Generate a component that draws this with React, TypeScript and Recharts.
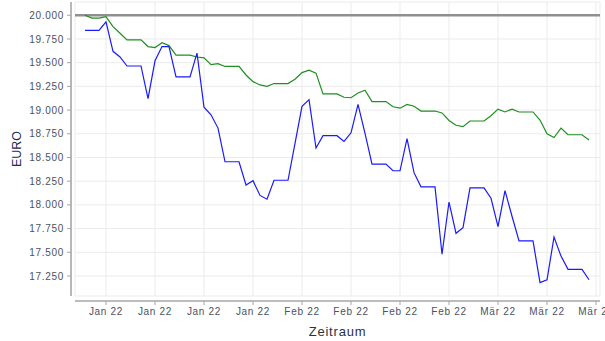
import React from 'react';
import { LineChart, Line, XAxis, YAxis, CartesianGrid, ReferenceLine } from 'recharts';

// Daily values (EUR), one entry per day starting ~6 Jan 2022
const blueValues = [
  19840, 19840, 19840, 19930, 19620, 19560, 19465, 19465, 19465, 19120,
  19520, 19670, 19670, 19350, 19350, 19350, 19600, 19030, 18950, 18810,
  18455, 18455, 18455, 18210, 18255, 18100, 18060, 18260, 18260, 18260,
  18650, 19040, 19110, 18600, 18730, 18730, 18730, 18670, 18760, 19060,
  18755, 18430, 18430, 18430, 18360, 18360, 18700, 18340, 18190, 18190,
  18190, 17480, 18030, 17700, 17760, 18180, 18180, 18180, 18070, 17770,
  18150, 17880, 17620, 17620, 17620, 17180, 17210, 17660, 17460, 17320,
  17320, 17320, 17210,
];

const greenValues = [
  20000, 19970, 19970, 19985, 19880, 19810, 19740, 19740, 19740, 19670,
  19660, 19710, 19680, 19580, 19580, 19580, 19560, 19550, 19480, 19490,
  19460, 19460, 19460, 19370, 19300, 19265, 19250, 19280, 19280, 19280,
  19325, 19395, 19420, 19390, 19170, 19170, 19170, 19135, 19130, 19180,
  19210, 19090, 19090, 19090, 19035, 19020, 19060, 19040, 18990, 18990,
  18990, 18970, 18890, 18840, 18825, 18885, 18885, 18885, 18940, 19010,
  18980, 19010, 18980, 18980, 18980, 18895, 18750, 18710, 18810, 18740,
  18740, 18740, 18685,
];

const tickDays = [3, 10, 17, 24, 31, 38, 45, 52, 59, 66, 73];
const tickLabels = [
  'Jan 22', 'Jan 22', 'Jan 22', 'Jan 22',
  'Feb 22', 'Feb 22', 'Feb 22', 'Feb 22',
  'Mär 22', 'Mär 22', 'Mär 22',
];
const yTicks = [17250, 17500, 17750, 18000, 18250, 18500, 18750, 19000, 19250, 19500, 19750, 20000];
const baselineValue = 20000;

const data = blueValues.map((b, i) => ({ d: i, blue: b, green: greenValues[i] }));

const fmtDE = (v: number) => {
  const s = String(Math.round(v));
  return s.replace(/\B(?=(\d{3})+(?!\d))/g, '.');
};

const FONT = '"Liberation Sans", Arial, sans-serif';
const tickStyle = { fill: '#4a5163', fontSize: 10, fontFamily: FONT, letterSpacing: 0.7 };
const axisGray = '#a6a6a6';

export default function App() {
  return (
    <div style={{ position: 'absolute', left: 0, top: 0, width: 605, height: 341, background: '#fff' }}>
      <LineChart width={605} height={341} data={data} margin={{ top: 2, right: 5, left: 0, bottom: 0 }}>
        <CartesianGrid xAxisId="main" yAxisId="main" stroke="#ebebeb" strokeWidth={1} />
        <XAxis xAxisId="main" dataKey="d" type="number" domain={[-1.43, 73.57]} allowDataOverflow
          ticks={tickDays}
          tickFormatter={(v: number) => tickLabels[tickDays.indexOf(v)] ?? ''}
          height={40}
          tick={tickStyle}
          tickSize={4}
          tickMargin={3}
          interval={0}
          stroke={axisGray}
          axisLine={{ stroke: axisGray, strokeWidth: 1.6 }}
          tickLine={{ stroke: axisGray }}
          label={{ value: 'Zeitraum', position: 'insideBottom', offset: 5, style: { fill: '#2b3245', fontSize: 13, fontFamily: FONT, letterSpacing: 0.8 } }}
        />
        <XAxis xAxisId="gap" type="number" height={5} tick={false} tickLine={false} axisLine={false} />
        <YAxis yAxisId="main" type="number" domain={[17039, 20140]} allowDataOverflow
          ticks={yTicks}
          tickFormatter={fmtDE}
          width={71}
          tick={tickStyle}
          tickSize={4}
          tickMargin={3}
          interval={0}
          stroke={axisGray}
          axisLine={{ stroke: axisGray, strokeWidth: 1.6 }}
          tickLine={{ stroke: axisGray }}
          label={{ value: 'EURO', angle: -90, position: 'insideLeft', offset: 17, style: { textAnchor: 'middle', fill: '#1f2b55', fontSize: 12.5, fontFamily: FONT } }}
        />
        <YAxis yAxisId="gap" type="number" width={4} tick={false} tickLine={false} axisLine={false} />
        <ReferenceLine xAxisId="main" yAxisId="main" y={baselineValue} stroke="#8f8f8f" strokeWidth={2.5} />
        <Line xAxisId="main" yAxisId="main" dataKey="green" stroke="#1f8f1f" strokeWidth={1.2} dot={false} isAnimationActive={false} />
        <Line xAxisId="main" yAxisId="main" dataKey="blue" stroke="#1a1aff" strokeWidth={1.2} dot={false} isAnimationActive={false} />
      </LineChart>
    </div>
  );
}
